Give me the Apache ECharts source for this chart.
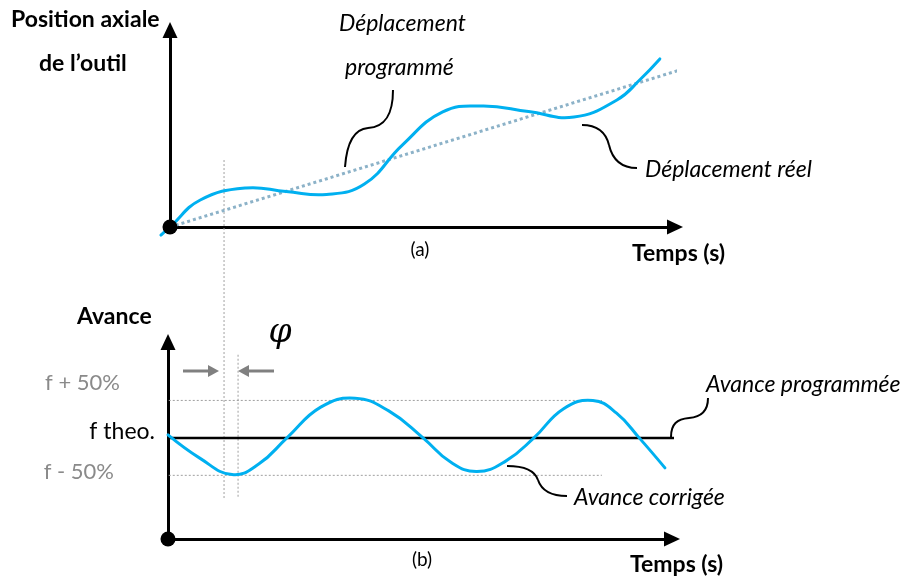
<!DOCTYPE html>
<html>
<head>
<meta charset="utf-8">
<script src="https://cdn.jsdelivr.net/npm/echarts@6/dist/echarts.min.js"></script>
<style>
  html, body { margin: 0; padding: 0; background: #fff; }
  #chart { width: 911px; height: 581px; }
</style>
</head>
<body>
<div id="chart"></div>
<script>
// ---- (a) axial tool position versus time ----
const realTime = [-0.18, 0, 0.6, 1.5, 2.3, 3.1, 3.85, 4.6, 5.4, 6.2, 7.1, 8.0, 8.85, 9.3, 9.7];
const realPos  = [-0.41, 0, 1.37, 1.98, 1.80, 1.65, 2.18, 4.16, 5.84, 6.14, 5.86, 5.58, 6.45, 7.46, 8.53];
const progTime = [0, 10.1];
const progPos  = [0, 7.97];

// ---- (b) feed rate versus time, in units of the theoretical feed f ----
const feedTime = [0, 0.63, 1.27, 1.8, 2.36, 3.03, 3.71, 4.38, 5.06, 5.6, 6.13, 6.7, 7.26, 7.85, 8.43, 8.9, 9.35, 9.86];
const feedReal = [1.04, 0.73, 0.51, 0.65, 1.00, 1.41, 1.53, 1.36, 1.00, 0.68, 0.55, 0.69, 1.00, 1.39, 1.50, 1.33, 1.00, 0.60];
const feedProgTime = [0, 10.5];
const feedProgVal  = [1, 1];
const bandTime   = [-0.62, 8.61];
const bandHigh   = 1.5;   // f + 50%
const bandLow    = 0.5;   // f - 50%
const levelTexts = ['f + 50%', 'f theo.', 'f - 50%'];

// phase-shift guide positions (time)
const guideTopTime = 1.07;
const guideTopRange = [3.40, -13.8];
const guideBottomTime = 1.39;
const guideBottomRange = [2.11, 0.21];

const zip = (xs, ys) => xs.map((x, i) => [x, ys[i]]);

const chart = echarts.init(document.getElementById('chart'), null, { renderer: 'canvas' });

function axis(gridIndex, min, max) {
  return {
    type: 'value', gridIndex, min, max,
    axisLine: { show: true, onZero: false, symbol: ['none', 'triangle'], symbolSize: [15, 16],
                lineStyle: { color: '#000', width: 3 } },
    axisTick: { show: false }, axisLabel: { show: false }, splitLine: { show: false }
  };
}

const BLUE = '#00b0f0';
const GUIDE = '#a0a0a0';
const GREY_TXT = '#8a8a8a';
const FONT = 'Lato, Carlito, "Open Sans", sans-serif';

// smooth curve through the sampled points, positioned by the axes
function smoothCurve(xs, ys, color) {
  return function (params, api) {
    if (params.dataIndex !== 0) return null;
    const pts = xs.map((x, i) => api.coord([x, ys[i]]));
    return {
      type: 'polyline',
      shape: { points: pts, smooth: 0.45 },
      style: { stroke: color, lineWidth: 3, fill: 'none', lineJoin: 'round', lineCap: 'round' }
    };
  };
}

function text(str, x, y, opt) {
  opt = opt || {};
  return {
    type: 'text', x, y, z: 10,
    style: {
      text: str,
      font: (opt.style || '') + ' ' + (opt.size || 23) + 'px ' + (opt.family || FONT),
      fill: opt.fill || '#000',
      align: opt.align || 'left',
      verticalAlign: 'middle'
    }
  };
}
function bez(p) {
  return {
    type: 'bezierCurve', z: 10,
    shape: { x1: p[0], y1: p[1], cpx1: p[2], cpy1: p[3], cpx2: p[4], cpy2: p[5], x2: p[6], y2: p[7] },
    style: { stroke: '#000', lineWidth: 2, fill: null }
  };
}

const option = {
  animation: false,
  backgroundColor: '#fff',
  grid: [
    { left: 170, top: 30, width: 505, height: 197 },
    { left: 168, top: 342, width: 504, height: 197 }
  ],
  xAxis: [axis(0, 0, 10), axis(1, 0, 10)],
  yAxis: [axis(0, 0, 10), axis(1, -0.35, 2.28)],
  series: [
    { type: 'line', xAxisIndex: 0, yAxisIndex: 0, clip: false, showSymbol: false,
      data: zip(progTime, progPos), lineStyle: { color: '#8cb2c8', width: 3, type: [3, 3] }, z: 3 },
    { type: 'custom', coordinateSystem: 'cartesian2d', xAxisIndex: 0, yAxisIndex: 0, clip: false,
      data: zip(realTime, realPos), encode: { x: 0, y: 1 },
      renderItem: smoothCurve(realTime, realPos, BLUE), z: 4 },
    { type: 'line', xAxisIndex: 0, yAxisIndex: 0, clip: false, showSymbol: false,
      data: [[guideTopTime, guideTopRange[0]], [guideTopTime, guideTopRange[1]]],
      lineStyle: { color: GUIDE, width: 1, type: [2, 2] }, z: 1 },
    { type: 'scatter', xAxisIndex: 0, yAxisIndex: 0, clip: false, data: [[0, 0]],
      symbolSize: 15, itemStyle: { color: '#000', opacity: 1 }, z: 6 },

    { type: 'line', xAxisIndex: 1, yAxisIndex: 1, clip: false, showSymbol: false,
      data: [[bandTime[0], bandHigh], [bandTime[1], bandHigh]],
      lineStyle: { color: GUIDE, width: 1, type: [2, 2] }, z: 1 },
    { type: 'line', xAxisIndex: 1, yAxisIndex: 1, clip: false, showSymbol: false,
      data: [[bandTime[0], bandLow], [bandTime[1], bandLow]],
      lineStyle: { color: GUIDE, width: 1, type: [2, 2] }, z: 1 },
    { type: 'line', xAxisIndex: 1, yAxisIndex: 1, clip: false, showSymbol: false,
      data: [[guideBottomTime, guideBottomRange[0]], [guideBottomTime, guideBottomRange[1]]],
      lineStyle: { color: GUIDE, width: 1, type: [2, 2] }, z: 1 },
    { type: 'line', xAxisIndex: 1, yAxisIndex: 1, clip: false, showSymbol: false,
      data: zip(feedProgTime, feedProgVal), lineStyle: { color: '#000', width: 2.5 }, z: 3 },
    { type: 'custom', coordinateSystem: 'cartesian2d', xAxisIndex: 1, yAxisIndex: 1, clip: false,
      data: zip(feedTime, feedReal), encode: { x: 0, y: 1 },
      renderItem: smoothCurve(feedTime, feedReal, BLUE), z: 4 },
    { type: 'scatter', xAxisIndex: 1, yAxisIndex: 1, clip: false, data: [[0, -0.35]],
      symbolSize: 15, itemStyle: { color: '#000', opacity: 1 }, z: 6 }
  ],
  graphic: [
    text('Position axiale', 11, 20, { style: 'bold' }),
    text('de l\u2019outil', 39, 64, { style: 'bold' }),
    text('Déplacement', 339, 24, { style: 'italic' }),
    text('programmé', 345, 68, { style: 'italic' }),
    text('Déplacement réel', 645, 170, { style: 'italic' }),
    text('(a)', 420, 250, { size: 19, align: 'center' }),
    text('Temps (s)', 632, 254, { style: 'bold' }),

    text('Avance', 77, 317, { style: 'bold' }),
    text('\u03c6', 280, 333, { style: 'italic', size: 33, family: '"DejaVu Serif", serif', align: 'center' }),
    text(levelTexts[0], 120, 383, { fill: GREY_TXT, align: 'right', size: 22 }),
    text(levelTexts[1], 155, 432, { align: 'right' }),
    text(levelTexts[2], 114, 472, { fill: GREY_TXT, align: 'right', size: 22 }),
    text('Avance programmée', 706, 385, { style: 'italic' }),
    text('Avance corrigée', 574, 498, { style: 'italic' }),
    text('(b)', 422, 560, { size: 19, align: 'center' }),
    text('Temps (s)', 630, 565, { style: 'bold' }),

    // leader curves
    bez([345, 167, 347, 140, 355, 129, 368, 128]),
    bez([368, 128, 385, 127, 393, 115, 393, 90]),
    bez([582, 125, 598, 125, 606, 133, 609, 145]),
    bez([609, 145, 613, 162, 623, 168, 637, 168]),
    bez([671, 437, 671, 424, 677, 419, 689, 418]),
    bez([689, 418, 702, 417, 708, 410, 708, 398]),
    bez([507, 466, 525, 466, 535, 471, 538, 480]),
    bez([538, 480, 542, 492, 552, 496, 567, 496]),

    // phase-shift arrows
    { type: 'line', shape: { x1: 183, y1: 371, x2: 209, y2: 371 }, style: { stroke: '#808080', lineWidth: 3 } },
    { type: 'polygon', shape: { points: [[208, 365], [219, 371], [208, 377]] }, style: { fill: '#808080' } },
    { type: 'line', shape: { x1: 274, y1: 371, x2: 248, y2: 371 }, style: { stroke: '#808080', lineWidth: 3 } },
    { type: 'polygon', shape: { points: [[249, 365], [238, 371], [249, 377]] }, style: { fill: '#808080' } }
  ]
};

chart.setOption(option);
</script>
</body>
</html>
